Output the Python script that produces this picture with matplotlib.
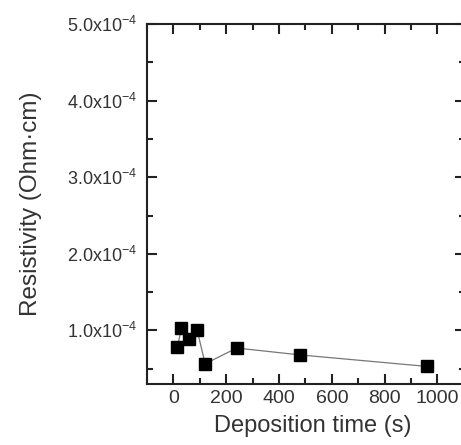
import matplotlib
matplotlib.use("Agg")
import matplotlib.pyplot as plt
from matplotlib.ticker import MultipleLocator, FuncFormatter

# deposition time (s) and resistivity (Ohm cm)
time_s = [15, 30, 60, 90, 120, 240, 480, 960]
resistivity = [0.78e-4, 1.03e-4, 0.89e-4, 1.0e-4, 0.565e-4, 0.77e-4, 0.68e-4, 0.53e-4]

plt.rcParams["font.family"] = ["Liberation Sans", "DejaVu Sans"]
plt.rcParams["mathtext.fontset"] = "custom"
plt.rcParams["mathtext.rm"] = "Liberation Sans"
plt.rcParams["mathtext.it"] = "Liberation Sans"

fig = plt.figure(figsize=(4.61, 4.45), dpi=100)
# the right spine sits just past the image edge, as in the original crop
ax = fig.add_axes([0.319, 0.137, 0.69, 0.809])

ax.plot(time_s, resistivity, color="#777777", lw=0.9, marker="s", ms=8,
        mfc="black", mec="black")

ax.set_xlim(-100, 1105)
ax.set_ylim(3e-5, 5e-4)
ax.xaxis.set_major_locator(MultipleLocator(200))
ax.xaxis.set_minor_locator(MultipleLocator(100))
ax.yaxis.set_major_locator(MultipleLocator(1e-4))
ax.yaxis.set_minor_locator(MultipleLocator(0.5e-4))


def sci(v, pos):
    return f"{v / 1e-4:.1f}x10$^{{-4}}$"


ax.yaxis.set_major_formatter(FuncFormatter(sci))

for s in ax.spines.values():
    s.set_linewidth(1.5)
    s.set_color("#222222")
ax.tick_params(which="both", direction="in", top=True, right=True,
               width=1.5, color="#222222", labelcolor="#333333")
ax.tick_params(which="major", length=7.5)
ax.tick_params(which="minor", length=4)
ax.tick_params(axis="x", labelsize=14, pad=4)
ax.tick_params(axis="y", labelsize=13, pad=7)

ax.set_xlabel("Deposition time (s)", fontsize=17, color="#333333")
ax.xaxis.set_label_coords(0.522, -0.085)
ax.set_ylabel("Resistivity (Ohm\u00b7cm)", fontsize=17.5, color="#333333", labelpad=18)

fig.savefig("out.png", dpi=100)
